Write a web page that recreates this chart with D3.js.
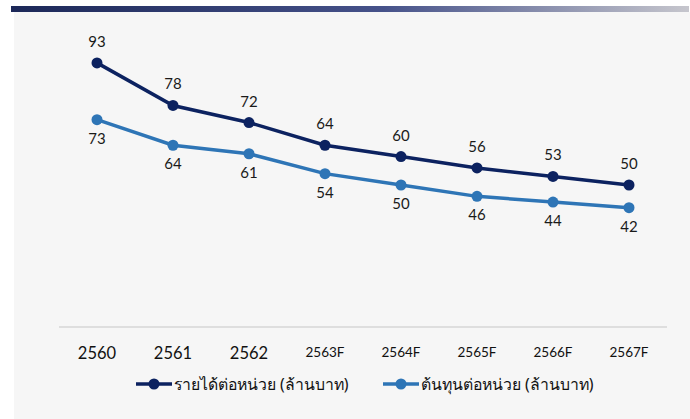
<!DOCTYPE html>
<html>
<head>
<meta charset="utf-8">
<script src="https://cdn.jsdelivr.net/npm/d3@7"></script>
<style>
  html, body { margin: 0; padding: 0; background: #fff; }
  svg { display: block; font-family: "Noto Sans", "DejaVu Sans", sans-serif; }
</style>
</head>
<body>
<div id="chart"></div>
<script>
const years = ['2560', '2561', '2562', '2563F', '2564F', '2565F', '2566F', '2567F'];
const revenuePerUnit = [93, 78, 72, 64, 60, 56, 53, 50];
const costPerUnit = [73, 64, 61, 54, 50, 46, 44, 42];
const seriesNames = ['รายได้ต่อหน่วย (ล้านบาท)', 'ต้นทุนต่อหน่วย (ล้านบาท)'];

const W = 690, H = 419;
const colors = ['#0c2260', '#2e75b6'];

const svg = d3.select('#chart').append('svg')
  .attr('width', W)
  .attr('height', H);

// header band
const grad = svg.append('defs').append('linearGradient')
  .attr('id', 'band')
  .attr('x1', '0%').attr('x2', '100%');
grad.append('stop').attr('offset', '0%').attr('stop-color', '#1c2858');
grad.append('stop').attr('offset', '55%').attr('stop-color', '#46528a');
grad.append('stop').attr('offset', '100%').attr('stop-color', '#c6c6cd');

svg.append('rect')
  .attr('x', 14).attr('y', 12)
  .attr('width', W - 14).attr('height', H - 12)
  .attr('fill', '#f6f6f6');

svg.append('rect')
  .attr('x', 11).attr('y', 6)
  .attr('width', 678).attr('height', 6)
  .attr('fill', 'url(#band)');

const x = d3.scaleBand()
  .domain(years)
  .range([59, 667]);

const y = d3.scaleLinear()
  .domain([0, 100])
  .range([327, 43]);

// baseline
svg.append('line')
  .attr('x1', 59).attr('x2', 667)
  .attr('y1', y(0)).attr('y2', y(0))
  .attr('stroke', '#d6d6d6')
  .attr('stroke-width', 1.5);

const xAxis = svg.append('g')
  .attr('transform', `translate(0,${y(0)})`)
  .call(d3.axisBottom(x).tickSize(0).tickPadding(20));
xAxis.select('.domain').remove();
xAxis.selectAll('text')
  .attr('fill', '#111')
  .style('font-family', 'Lato, sans-serif')
  .style('font-size', d => d.endsWith('F') ? '13.5px' : '16.5px');

const cx = d => x(d) + x.bandwidth() / 2;
const line = d3.line()
  .x((d, i) => cx(years[i]))
  .y(d => y(d));

[revenuePerUnit, costPerUnit].forEach((vals, s) => {
  const g = svg.append('g');
  g.append('path')
    .datum(vals)
    .attr('fill', 'none')
    .attr('stroke', colors[s])
    .attr('stroke-width', 3.5)
    .attr('d', line);

  g.selectAll('circle')
    .data(vals)
    .join('circle')
    .attr('cx', (d, i) => cx(years[i]))
    .attr('cy', d => y(d))
    .attr('r', 5.5)
    .attr('fill', colors[s]);

  g.selectAll('text')
    .data(vals)
    .join('text')
    .attr('x', (d, i) => cx(years[i]))
    .attr('y', d => s === 0 ? y(d) - 16 : y(d) + 24)
    .attr('text-anchor', 'middle')
    .attr('fill', '#1a1a1a')
    .style('font-family', 'Lato, sans-serif')
    .style('font-size', '15px')
    .text(d => d);
});

// legend
const legend = svg.append('g').attr('transform', 'translate(0,384)');
const legendX = [136, 383];
seriesNames.forEach((name, s) => {
  const lg = legend.append('g').attr('transform', `translate(${legendX[s]},0)`);
  lg.append('line')
    .attr('x1', 0).attr('x2', 36)
    .attr('stroke', colors[s])
    .attr('stroke-width', 3.5);
  lg.append('circle')
    .attr('cx', 18)
    .attr('r', 5.5)
    .attr('fill', colors[s]);
  lg.append('text')
    .attr('x', 38)
    .attr('dy', '0.35em')
    .attr('fill', '#111')
    .style('font-size', '15.8px')
    .text(name);
});
</script>
</body>
</html>
